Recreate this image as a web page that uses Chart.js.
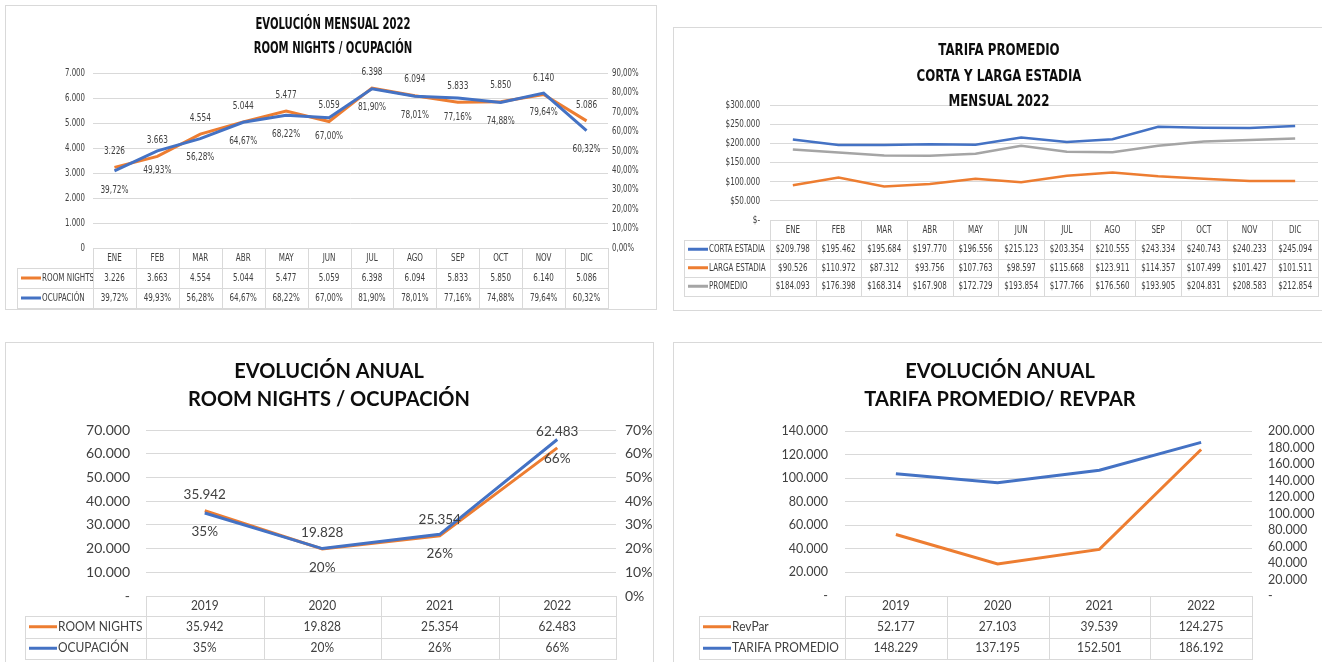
<!DOCTYPE html>
<html>
<head>
<meta charset="utf-8">
<script src="https://cdn.jsdelivr.net/npm/chart.js@4.4.0/dist/chart.umd.min.js"></script>
<style>
  body { margin: 0; background: #fff; width: 1322px; height: 662px; overflow: hidden; position: relative; }
  .box { position: absolute; border: 1px solid #d9d9d9; background: #fff; overflow: hidden; }
  .box canvas { position: absolute; left: 0; top: 0; }
</style>
</head>
<body>
<div class="box" style="left:5px;top:5px;width:650px;height:303px"><canvas id="c1" width="650" height="303"></canvas></div>
<div class="box" style="left:673px;top:27px;width:660px;height:282px"><canvas id="c2" width="652" height="282"></canvas></div>
<div class="box" style="left:5px;top:342px;width:647px;height:340px"><canvas id="c3" width="647" height="330"></canvas></div>
<div class="box" style="left:673px;top:342px;width:670px;height:340px"><canvas id="c4" width="660" height="330"></canvas></div>

<script>
// datos
const meses = ['ENE', 'FEB', 'MAR', 'ABR', 'MAY', 'JUN', 'JUL', 'AGO', 'SEP', 'OCT', 'NOV', 'DIC'];
const roomNightsMes = [3226, 3663, 4554, 5044, 5477, 5059, 6398, 6094, 5833, 5850, 6140, 5086];
const ocupacionMes = [39.72, 49.93, 56.28, 64.67, 68.22, 67.00, 81.90, 78.01, 77.16, 74.88, 79.64, 60.32];

const cortaEstadia = [209798, 195462, 195684, 197770, 196556, 215123, 203354, 210555, 243334, 240743, 240233, 245094];
const largaEstadia = [90526, 110972, 87312, 93756, 107763, 98597, 115668, 123911, 114357, 107499, 101427, 101511];
const promedioTarifa = [184093, 176398, 168314, 167908, 172729, 193854, 177766, 176560, 193905, 204831, 208583, 212854];

const anios = ['2019', '2020', '2021', '2022'];
const roomNightsAnual = [35942, 19828, 25354, 62483];
const ocupacionAnual = [35, 20, 26, 66];
const revPar = [52177, 27103, 39539, 124275];
const tarifaPromedio = [148229, 137195, 152501, 186192];

const NARANJA = '#ED7D31', AZUL = '#4472C4', GRIS = '#A5A5A5';
const NARROW = "'Liberation Sans Narrow', 'DejaVu Sans Condensed', sans-serif";
const CALIBRI = "Lato, 'Open Sans', sans-serif";

const miles = n => String(Math.round(n)).replace(/\B(?=(\d{3})+(?!\d))/g, '.');
const pct2 = n => n.toFixed(2).replace('.', ',') + '%';
const pesos = v => v === 0 ? '$-' : '$' + miles(v);
const milesGuion = v => v === 0 ? '-' : miles(v);
const pct0 = v => v + '%';

// texto comprimido en horizontal (las etiquetas de Excel se ven angostas)
function txt(c, s, x, y, align, sx) {
  c.save();
  c.translate(x, y);
  c.scale(sx, 1);
  c.textAlign = align;
  c.fillText(s, 0, 0);
  c.restore();
}

function titlePlugin(lines, x, ys, font, sx) {
  return {
    id: 'titulo',
    afterDraw(chart) {
      const c = chart.ctx;
      c.save();
      c.font = font;
      c.fillStyle = '#0d0d0d';
      c.textBaseline = 'middle';
      lines.forEach((t, i) => txt(c, t, x, ys[i], 'center', sx));
      c.restore();
    }
  };
}

function labelPlugin(items, font, sx) {
  return {
    id: 'etiquetas',
    afterDatasetsDraw(chart) {
      const c = chart.ctx;
      c.save();
      c.font = font;
      c.fillStyle = '#404040';
      c.textBaseline = 'middle';
      items.forEach(it => {
        const meta = chart.getDatasetMeta(it.ds);
        const vals = chart.data.datasets[it.ds].data;
        meta.data.forEach((pt, i) => txt(c, it.fmt(vals[i]), pt.x, pt.y + it.dy, 'center', sx));
      });
      c.restore();
    }
  };
}

// etiquetas de ejes dibujadas a mano para poder comprimirlas
function axisPlugin(axes, font, sx) {
  return {
    id: 'ejes',
    afterDraw(chart) {
      const c = chart.ctx;
      c.save();
      c.font = font;
      c.fillStyle = '#404040';
      c.textBaseline = 'middle';
      axes.forEach(ax => {
        const s = chart.scales[ax.id];
        s.ticks.forEach(t => {
          const y = s.getPixelForValue(t.value);
          if (s.position === 'left') txt(c, ax.fmt(t.value), s.right - ax.pad, y, 'right', sx);
          else txt(c, ax.fmt(t.value), s.left + ax.pad, y, 'left', sx);
        });
      });
      c.restore();
    }
  };
}

function tablePlugin(cfg) {
  const sx = cfg.sx || 1;
  return {
    id: 'tabla',
    afterDraw(chart) {
      const c = chart.ctx, a = chart.chartArea;
      const cats = chart.data.labels;
      const w = (a.right - a.left) / cats.length;
      const px = v => Math.round(v) + 0.5;
      c.save();
      c.strokeStyle = '#d9d9d9';
      c.lineWidth = 1;
      c.font = cfg.font;
      c.fillStyle = '#404040';
      c.textBaseline = 'middle';
      let y = a.bottom;
      cats.forEach((t, i) => {
        const x0 = a.left + i * w;
        c.strokeRect(px(x0), px(y), Math.round(x0 + w) - Math.round(x0), Math.round(y + cfg.headH) - Math.round(y));
        txt(c, t, x0 + w / 2, y + cfg.headH / 2, 'center', sx);
      });
      y += cfg.headH;
      cfg.rows.forEach(r => {
        const y1 = y + cfg.rowH;
        c.strokeRect(px(cfg.left), px(y), Math.round(a.left) - cfg.left, Math.round(y1) - Math.round(y));
        c.beginPath();
        c.strokeStyle = r.color;
        c.lineWidth = 3;
        c.moveTo(cfg.left + 4, y + cfg.rowH / 2);
        c.lineTo(cfg.left + 4 + cfg.keyLen, y + cfg.rowH / 2);
        c.stroke();
        c.strokeStyle = '#d9d9d9';
        c.lineWidth = 1;
        txt(c, r.label, cfg.left + 5 + cfg.keyLen, y + cfg.rowH / 2, 'left', sx);
        r.data.forEach((v, i) => {
          const x0 = a.left + i * w;
          c.strokeRect(px(x0), px(y), Math.round(x0 + w) - Math.round(x0), Math.round(y1) - Math.round(y));
          txt(c, r.fmt(v), x0 + w / 2, y + cfg.rowH / 2, 'center', sx);
        });
        y = y1;
      });
      c.restore();
    }
  };
}

// tickColor transparente cuando las etiquetas las dibuja axisPlugin
function yAxis(pos, width, pad, min, max, step, cb, font, grid, tickColor) {
  return {
    position: pos,
    min: min, max: max,
    border: { display: false },
    grid: { display: grid, drawOnChartArea: grid, color: '#d9d9d9', drawTicks: false },
    ticks: { stepSize: step, autoSkip: false, padding: pad, color: tickColor, font: font, callback: cb },
    afterFit(s) { s.width = width; }
  };
}

const base = {
  responsive: false,
  animation: false,
  plugins: { legend: { display: false }, tooltip: { enabled: false }, title: { display: false } },
  elements: { point: { radius: 0 }, line: { tension: 0 } }
};
const OCULTO = 'rgba(0,0,0,0)';

// 1. Evolución mensual
new Chart(document.getElementById('c1'), {
  type: 'line',
  data: {
    labels: meses,
    datasets: [
      { label: 'ROOM NIGHTS', data: roomNightsMes, borderColor: NARANJA, borderWidth: 3, yAxisID: 'y', order: 1 },
      { label: 'OCUPACIÓN', data: ocupacionMes, borderColor: AZUL, borderWidth: 3, yAxisID: 'y2', order: 0 }
    ]
  },
  options: {
    ...base,
    layout: { padding: { top: 67, bottom: 61, left: 0, right: 0 } },
    scales: {
      x: { display: false, offset: true },
      y: yAxis('left', 87, 8, 0, 7000, 1000, miles, { size: 10 }, true, OCULTO),
      y2: yAxis('right', 48, 4, 0, 90, 10, pct2, { size: 10 }, false, OCULTO)
    }
  },
  plugins: [
    axisPlugin([
      { id: 'y', pad: 8, fmt: miles },
      { id: 'y2', pad: 4, fmt: pct2 }
    ], '10.5px ' + NARROW, 0.74),
    titlePlugin(['EVOLUCIÓN MENSUAL 2022', 'ROOM NIGHTS / OCUPACIÓN'], 327, [19, 43], 'bold 16px ' + NARROW, 0.7),
    labelPlugin([
      { ds: 0, dy: -16, fmt: miles },
      { ds: 1, dy: 19, fmt: pct2 }
    ], '10.5px ' + NARROW, 0.78),
    tablePlugin({
      font: '10.5px ' + NARROW, sx: 0.76, headH: 20, rowH: 20, left: 11, keyLen: 20,
      rows: [
        { label: 'ROOM NIGHTS', color: NARANJA, data: roomNightsMes, fmt: miles },
        { label: 'OCUPACIÓN', color: AZUL, data: ocupacionMes, fmt: pct2 }
      ]
    })
  ]
});

// 2. Tarifa promedio
new Chart(document.getElementById('c2'), {
  type: 'line',
  data: {
    labels: meses,
    datasets: [
      { label: 'CORTA ESTADIA', data: cortaEstadia, borderColor: AZUL, borderWidth: 2.5 },
      { label: 'LARGA ESTADIA', data: largaEstadia, borderColor: NARANJA, borderWidth: 2.5 },
      { label: 'PROMEDIO', data: promedioTarifa, borderColor: GRIS, borderWidth: 2.5 }
    ]
  },
  options: {
    ...base,
    layout: { padding: { top: 77, bottom: 90, left: 0, right: 8 } },
    scales: {
      x: { display: false, offset: true },
      y: yAxis('left', 96, 10, 0, 300000, 50000, pesos, { size: 10 }, true, OCULTO)
    }
  },
  plugins: [
    axisPlugin([{ id: 'y', pad: 10, fmt: pesos }], '11px ' + NARROW, 0.73),
    titlePlugin(['TARIFA PROMEDIO', 'CORTA Y LARGA ESTADIA', 'MENSUAL 2022'], 325, [23, 49, 74], 'bold 16px ' + NARROW, 0.82),
    tablePlugin({
      font: '11px ' + NARROW, sx: 0.72, headH: 20, rowH: 18.5, left: 10, keyLen: 20,
      rows: [
        { label: 'CORTA ESTADIA', color: AZUL, data: cortaEstadia, fmt: pesos },
        { label: 'LARGA ESTADIA', color: NARANJA, data: largaEstadia, fmt: pesos },
        { label: 'PROMEDIO', color: GRIS, data: promedioTarifa, fmt: pesos }
      ]
    })
  ]
});

// 3. Evolución anual room nights / ocupación
new Chart(document.getElementById('c3'), {
  type: 'line',
  data: {
    labels: anios,
    datasets: [
      { label: 'ROOM NIGHTS', data: roomNightsAnual, borderColor: NARANJA, borderWidth: 3, yAxisID: 'y', order: 1 },
      { label: 'OCUPACIÓN', data: ocupacionAnual, borderColor: AZUL, borderWidth: 3, yAxisID: 'y2', order: 0 }
    ]
  },
  options: {
    ...base,
    layout: { padding: { top: 87, bottom: 77, left: 0, right: 0 } },
    scales: {
      x: { display: false, offset: true },
      y: yAxis('left', 140, 16, 0, 70000, 10000, milesGuion, { family: CALIBRI, size: 14 }, true, '#404040'),
      y2: yAxis('right', 37, 9, 0, 70, 10, pct0, { family: CALIBRI, size: 14 }, false, '#404040')
    }
  },
  plugins: [
    titlePlugin(['EVOLUCIÓN ANUAL', 'ROOM NIGHTS / OCUPACIÓN'], 323, [29, 57], 'bold 20px ' + CALIBRI, 1),
    labelPlugin([
      { ds: 0, dy: -16, fmt: miles },
      { ds: 1, dy: 19, fmt: pct0 }
    ], '13.5px ' + CALIBRI, 1),
    tablePlugin({
      font: '13px ' + CALIBRI, sx: 0.92, headH: 20, rowH: 21.5, left: 19, keyLen: 28,
      rows: [
        { label: 'ROOM NIGHTS', color: NARANJA, data: roomNightsAnual, fmt: miles },
        { label: 'OCUPACIÓN', color: AZUL, data: ocupacionAnual, fmt: pct0 }
      ]
    })
  ]
});

// 4. Evolución anual tarifa promedio / revpar
new Chart(document.getElementById('c4'), {
  type: 'line',
  data: {
    labels: anios,
    datasets: [
      { label: 'RevPar', data: revPar, borderColor: NARANJA, borderWidth: 3, yAxisID: 'y' },
      { label: 'TARIFA PROMEDIO', data: tarifaPromedio, borderColor: AZUL, borderWidth: 3, yAxisID: 'y2' }
    ]
  },
  options: {
    ...base,
    layout: { padding: { top: 88, bottom: 77, left: 0, right: 0 } },
    scales: {
      x: { display: false, offset: true },
      y: yAxis('left', 171, 17, 0, 140000, 20000, milesGuion, { family: CALIBRI, size: 12.5 }, true, '#404040'),
      y2: yAxis('right', 82, 16, 0, 200000, 20000, milesGuion, { family: CALIBRI, size: 12.5 }, false, '#404040')
    }
  },
  plugins: [
    titlePlugin(['EVOLUCIÓN ANUAL', 'TARIFA PROMEDIO/ REVPAR'], 326, [29, 57], 'bold 20px ' + CALIBRI, 1),
    tablePlugin({
      font: '12.5px ' + CALIBRI, sx: 0.96, headH: 20, rowH: 21.5, left: 25, keyLen: 28,
      rows: [
        { label: 'RevPar', color: NARANJA, data: revPar, fmt: miles },
        { label: 'TARIFA PROMEDIO', color: AZUL, data: tarifaPromedio, fmt: miles }
      ]
    })
  ]
});
</script>
</body>
</html>
